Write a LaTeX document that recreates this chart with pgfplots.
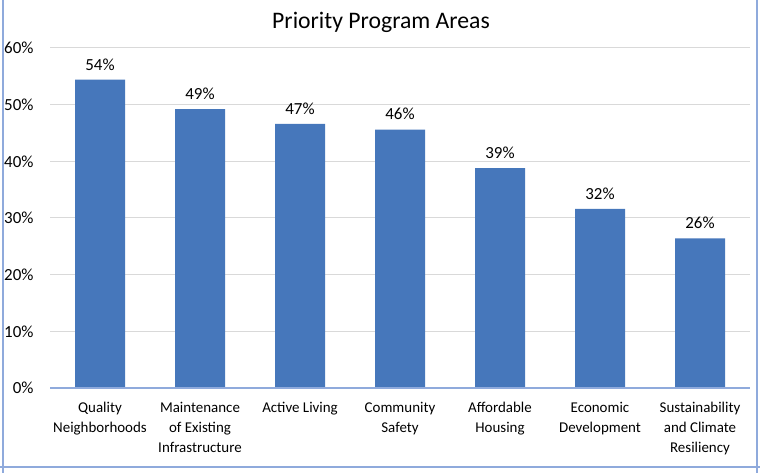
\documentclass[border=0pt]{standalone}
\usepackage{pgfplots}
\pgfplotsset{compat=1.18}
\usepackage{fontspec}
\setmainfont{Carlito}
\definecolor{barblue}{HTML}{4677BB}
\definecolor{frameblue}{HTML}{8FAADC}
\definecolor{gridgray}{HTML}{D9D9D9}

\begin{document}
\begin{tikzpicture}[x=1bp,y=1bp]
\useasboundingbox (0,0) rectangle (760,473);
% frame of the cell
\draw[frameblue, line width=1.5bp] (3,473) -- (3,0);
\draw[frameblue, line width=1.5bp] (757,473) -- (757,0);
\draw[frameblue, line width=1.5bp] (0,6) -- (760,6);
\node[font=\fontsize{23.8}{26}\selectfont] at (381,451) {Priority Program Areas};
\begin{axis}[
  at={(50bp,85bp)}, anchor=south west,
  width=700bp, height=340bp, scale only axis,
  xmin=-0.5, xmax=6.5, ymin=0, ymax=60,
  ybar, bar width=50bp,
  axis line style={draw=none},
  major tick length=0pt,
  ytick={0,10,...,60},
  yticklabel={\pgfmathprintnumber{\tick}\%},
  /pgf/number format/assume math mode=true,
  yticklabel style={font=\fontsize{17}{20}\selectfont, xshift=-13bp},
  ymajorgrids, grid style={gridgray, line width=1bp},
  xtick={0,...,6},
  xticklabels={{Quality\\Neighborhoods},{Maintenance\\of Existing\\Infrastructure},{Active Living},{Community\\Safety},{Affordable\\Housing},{Economic\\Development},{Sustainability\\and Climate\\Resiliency}},
  xticklabel style={align=center, font=\fontsize{15}{20}\selectfont, yshift=-11bp},
  nodes near coords={\pgfmathprintnumber[fixed,precision=0]{\pgfplotspointmeta}\%},
  nodes near coords style={font=\fontsize{17}{20}\selectfont, anchor=south, yshift=6bp},
]
\addplot[fill=barblue, draw=none] coordinates {(0,54.4) (1,49.2) (2,46.6) (3,45.6) (4,38.8) (5,31.6) (6,26.4)};
\end{axis}
\draw[frameblue, line width=1.2bp] (50,85) -- (750,85);
\end{tikzpicture}
\end{document}
